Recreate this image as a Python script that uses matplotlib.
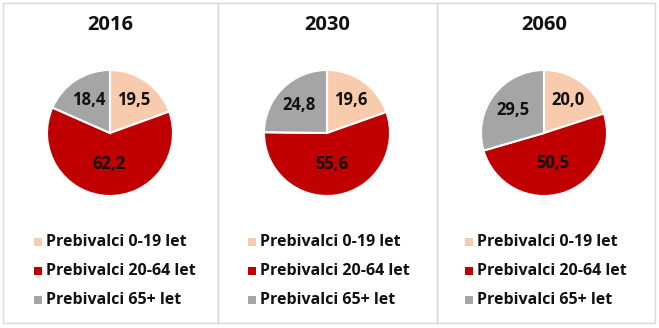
import matplotlib
matplotlib.use("Agg")
import matplotlib.pyplot as plt
from matplotlib.patches import Rectangle
import numpy as np

years = ["2016", "2030", "2060"]
groups = ["Prebivalci 0-19 let", "Prebivalci 20-64 let", "Prebivalci 65+ let"]
shares_2016 = [19.5, 62.2, 18.4]
shares_2030 = [19.6, 55.6, 24.8]
shares_2060 = [20.0, 50.5, 29.5]
all_shares = [shares_2016, shares_2030, shares_2060]
colors = ["#F8CBAD", "#C00000", "#A5A5A5"]

plt.rcParams["font.family"] = ["Open Sans", "DejaVu Sans"]

W, H = 659, 328
fig = plt.figure(figsize=(W / 100, H / 100), dpi=100)
fig.patch.set_facecolor("white")

def fx(px):
    return px / W

def fy(py):
    return 1 - py / H

# panel frames
panels = [(3, 218), (218, 437), (437, 655)]
for x0, x1 in panels:
    fig.patches.append(Rectangle((fx(x0), fy(323)), fx(x1) - fx(x0), fy(3) - fy(323),
                                 transform=fig.transFigure, fill=False,
                                 edgecolor="#D9D9D9", linewidth=1.0))

centers_x = [110, 327, 544]
cy = 133
r = 63
label_dist = [0.64, 0.5, 0.62]

for i, (year, shares) in enumerate(zip(years, all_shares)):
    cx = centers_x[i]
    ax = fig.add_axes([fx(cx - r), fy(cy + r), fx(2 * r), fy(cy - r) - fy(cy + r)])
    wedges, _ = ax.pie(shares, colors=colors, startangle=90, counterclock=False,
                       wedgeprops=dict(edgecolor="white", linewidth=1.5))
    ax.set_xlim(-1, 1)
    ax.set_ylim(-1, 1)
    ax.set_aspect("equal")
    ax.axis("off")
    for w, v, d in zip(wedges, shares, label_dist):
        ang = np.deg2rad((w.theta1 + w.theta2) / 2)
        ax.text(d * np.cos(ang), d * np.sin(ang), f"{v:.1f}".replace(".", ","),
                ha="center", va="center", fontsize=12, fontweight="bold", color="#111111")

    fig.text(fx(cx), fy(25), year, ha="center", va="center",
             fontsize=14.5, fontweight="bold", color="#111111")

    # legend
    mx = [38, 252, 469][i]
    for j, (g, c) in enumerate(zip(groups, colors)):
        yy = [242, 271, 300][j]
        fig.patches.append(Rectangle((fx(mx - 4), fy(yy + 4)), fx(8), fy(0) - fy(8),
                                     transform=fig.transFigure, facecolor=c, edgecolor="none"))
        fig.text(fx(mx + 8), fy(yy), g, ha="left", va="center",
                 fontsize=11.5, fontweight="bold", color="#111111")

fig.savefig("out.png", dpi=100)
